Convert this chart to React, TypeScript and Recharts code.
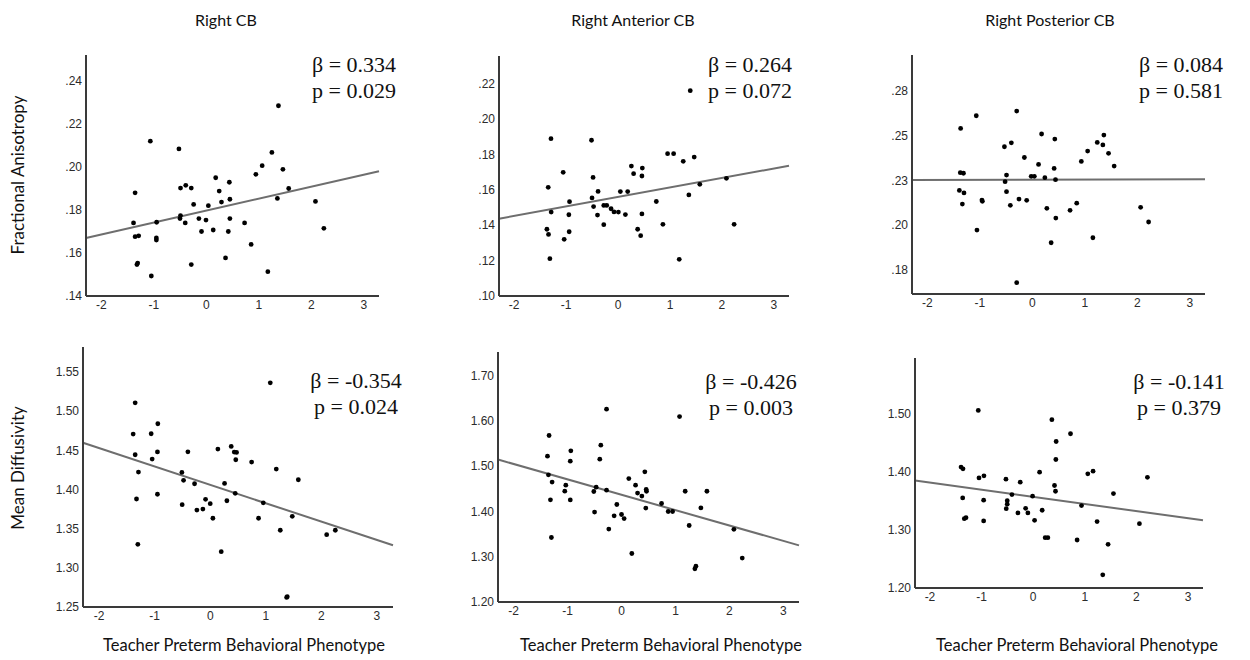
import { ScatterChart, Scatter, XAxis, YAxis, ReferenceLine } from "recharts";

type Pt = [number, number];

const COLUMN_TITLES = ["Right CB", "Right Anterior CB", "Right Posterior CB"];
const ROW_TITLES = ["Fractional Anisotropy", "Mean Diffusivity"];
const X_TITLE = "Teacher Preterm Behavioral Phenotype";

const X_TICKS = [-2, -1, 0, 1, 2, 3];
const X_DOMAIN: [number, number] = [-2.29, 3.29];

// ---- top row: fractional anisotropy ----
const RCB_FA: Pt[] = [
  [1.375, 0.2285], [-1.065, 0.212], [-0.52, 0.2084], [1.25, 0.2068], [1.065, 0.2006],
  [1.46, 0.1989], [0.945, 0.1966], [0.18, 0.195], [0.44, 0.1929], [-0.39, 0.1915],
  [-0.49, 0.1902], [-0.285, 0.1902], [1.57, 0.19], [-1.355, 0.188], [0.247, 0.1888],
  [0.45, 0.185], [1.355, 0.1854], [2.08, 0.184], [0.29, 0.1837], [-0.24, 0.1826],
  [0.04, 0.182], [-0.49, 0.1774], [-0.5, 0.176], [-0.14, 0.176], [-0.005, 0.1753],
  [0.45, 0.176], [-0.945, 0.1743], [-0.4, 0.174], [-1.385, 0.174], [0.73, 0.174],
  [-0.09, 0.17], [0.133, 0.1707], [0.42, 0.17], [2.24, 0.1715], [-1.287, 0.168],
  [-1.355, 0.1676], [-0.95, 0.167], [-0.95, 0.166], [0.855, 0.164], [0.367, 0.1577],
  [-1.306, 0.1553], [-1.32, 0.1546], [-0.285, 0.1546], [1.173, 0.1513], [-1.046, 0.1493],
];
const RCB_FA_FIT = [0.167, 0.198];
const RCB_FA_TICKS = [0.14, 0.16, 0.18, 0.2, 0.22, 0.24];
const RCB_FA_LABELS = [".14", ".16", ".18", ".20", ".22", ".24"];

const RACB_FA: Pt[] = [
  [1.39, 0.216], [-1.29, 0.1889], [-0.51, 0.188], [0.954, 0.1804], [1.07, 0.1804],
  [1.466, 0.1785], [1.255, 0.1761], [0.257, 0.1734], [0.468, 0.1723], [-1.055, 0.1699],
  [0.3, 0.1691], [0.46, 0.1678], [-0.48, 0.167], [2.086, 0.1665], [1.574, 0.1631],
  [-1.343, 0.1614], [-0.384, 0.1591], [0.045, 0.159], [0.186, 0.159], [1.363, 0.1571],
  [-0.5, 0.1554], [-0.933, 0.1533], [0.737, 0.1534], [-0.47, 0.1505], [-0.274, 0.1512],
  [-0.217, 0.1512], [-0.134, 0.1493], [-0.077, 0.1475], [0.007, 0.1474], [-1.286, 0.1474],
  [-0.946, 0.1459], [-0.395, 0.1457], [0.142, 0.146], [0.46, 0.1464], [-0.274, 0.1403],
  [0.864, 0.1405], [2.234, 0.1405], [-1.368, 0.1377], [0.378, 0.1377], [-1.337, 0.1348],
  [-0.94, 0.1363], [0.436, 0.1341], [-1.036, 0.132], [-1.311, 0.1211], [1.178, 0.1207],
];
const RACB_FA_FIT = [0.1437, 0.1736];
const RACB_FA_TICKS = [0.1, 0.12, 0.14, 0.16, 0.18, 0.2, 0.22];
const RACB_FA_LABELS = [".10", ".12", ".14", ".16", ".18", ".20", ".22"];

const RPCB_FA: Pt[] = [
  [-0.296, 0.2637], [-1.066, 0.2611], [-1.364, 0.254], [0.178, 0.2509], [1.364, 0.2503],
  [0.43, 0.2481], [1.238, 0.2462], [-0.398, 0.246], [1.345, 0.2448], [-0.53, 0.2438],
  [1.055, 0.2414], [1.453, 0.2401], [-0.15, 0.2378], [0.935, 0.2356], [0.12, 0.2339],
  [1.56, 0.233], [0.417, 0.2317], [-1.37, 0.2293], [-1.31, 0.229], [-0.49, 0.228],
  [-0.02, 0.2273], [0.04, 0.2273], [0.24, 0.2265], [-0.517, 0.2243], [0.443, 0.2254],
  [-1.388, 0.2194], [-1.3, 0.218], [-0.49, 0.2187], [-0.252, 0.2146], [-0.106, 0.2139],
  [-0.958, 0.214], [-0.95, 0.2133], [-1.331, 0.2118], [0.847, 0.2123], [-0.417, 0.2111],
  [2.064, 0.21], [0.278, 0.2094], [0.72, 0.2083], [0.449, 0.204], [2.216, 0.2018],
  [-1.053, 0.1973], [1.155, 0.193], [0.36, 0.1902], [-0.296, 0.1679],
];
const RPCB_FA_FIT = [0.2252, 0.2256];
const RPCB_FA_TICKS = [0.175, 0.2, 0.225, 0.25, 0.275];
const RPCB_FA_LABELS = [".18", ".20", ".23", ".25", ".28"];

// ---- bottom row: mean diffusivity ----
const RCB_MD: Pt[] = [
  [1.081, 1.5362], [-1.351, 1.5107], [-0.943, 1.484], [-1.387, 1.4708], [-1.063, 1.4712],
  [0.378, 1.4551], [0.138, 1.4517], [-0.402, 1.4482], [-0.95, 1.448], [0.432, 1.4478],
  [0.474, 1.4474], [-1.351, 1.4444], [-1.045, 1.4389], [0.46, 1.438], [0.745, 1.435],
  [1.189, 1.4261], [-1.292, 1.4223], [-0.51, 1.4219], [1.586, 1.4125], [-0.48, 1.4117],
  [-0.282, 1.4074], [0.258, 1.4078], [0.45, 1.3951], [-0.95, 1.394], [-1.327, 1.3879],
  [-0.084, 1.3875], [0.3, 1.3857], [0.0, 1.3819], [0.955, 1.383], [-0.505, 1.3806],
  [-0.24, 1.3738], [-0.132, 1.375], [1.477, 1.3658], [0.048, 1.3633], [0.87, 1.3633],
  [1.261, 1.348], [2.252, 1.348], [2.096, 1.3424], [-1.303, 1.33], [0.198, 1.3207],
  [1.375, 1.2622], [1.387, 1.2632],
];
const RCB_MD_FIT = [1.4597, 1.3288];
const RCB_MD_TICKS = [1.25, 1.3, 1.35, 1.4, 1.45, 1.5, 1.55];
const RCB_MD_LABELS = ["1.25", "1.30", "1.35", "1.40", "1.45", "1.50", "1.55"];

const RACB_MD: Pt[] = [
  [-0.278, 1.6258], [1.076, 1.6095], [-1.343, 1.5676], [-0.384, 1.5463], [-0.94, 1.5338],
  [-1.373, 1.522], [-0.403, 1.5154], [-0.95, 1.511], [0.432, 1.4874], [-1.355, 1.4808],
  [0.135, 1.4726], [-1.287, 1.4647], [-1.033, 1.458], [0.26, 1.458], [-0.47, 1.4536],
  [-0.278, 1.447], [0.457, 1.4485], [-1.052, 1.4448], [-0.514, 1.444], [0.463, 1.4445],
  [1.18, 1.4445], [1.583, 1.4445], [0.297, 1.4404], [0.377, 1.4338], [-1.318, 1.4256],
  [-0.95, 1.4254], [0.742, 1.4175], [-0.087, 1.4153], [0.45, 1.4073], [1.471, 1.408],
  [0.865, 1.3998], [0.946, 1.3998], [-0.5, 1.3985], [0.0, 1.3932], [-0.137, 1.3903],
  [0.048, 1.3843], [1.254, 1.3689], [-0.236, 1.361], [2.083, 1.3605], [-1.3, 1.3424],
  [0.191, 1.3071], [2.238, 1.2969], [1.379, 1.2792], [1.36, 1.2733],
];
const RACB_MD_FIT = [1.5146, 1.325];
const RACB_MD_TICKS = [1.2, 1.3, 1.4, 1.5, 1.6, 1.7];
const RACB_MD_LABELS = ["1.20", "1.30", "1.40", "1.50", "1.60", "1.70"];

const RPCB_MD: Pt[] = [
  [-1.064, 1.505], [0.362, 1.489], [0.723, 1.4649], [0.445, 1.4516], [0.439, 1.4207],
  [-1.398, 1.4076], [-1.36, 1.4046], [1.16, 1.4007], [0.124, 1.399], [1.058, 1.396],
  [-0.954, 1.3926], [-1.05, 1.3891], [2.213, 1.39], [-0.528, 1.3869], [-0.251, 1.3817],
  [0.413, 1.376], [0.432, 1.3662], [1.555, 1.3621], [-0.412, 1.3604], [-0.012, 1.3577],
  [-1.366, 1.3547], [-0.96, 1.3508], [-0.503, 1.35], [-0.503, 1.3439], [0.936, 1.3415],
  [-0.522, 1.3363], [-0.147, 1.3368], [0.174, 1.3335], [-0.103, 1.3289], [-0.296, 1.3289],
  [-1.302, 1.3208], [-1.335, 1.3191], [0.027, 1.3163], [-0.96, 1.3152], [1.238, 1.3141],
  [2.058, 1.3105], [0.232, 1.2864], [0.284, 1.2864], [0.851, 1.2824], [1.451, 1.275],
  [1.348, 1.2227],
];
const RPCB_MD_FIT = [1.3845, 1.3163];
const RPCB_MD_TICKS = [1.2, 1.3, 1.4, 1.5];
const RPCB_MD_LABELS = ["1.20", "1.30", "1.40", "1.50"];

const BETAS = ["0.334", "0.264", "0.084", "-0.354", "-0.426", "-0.141"];
const P_VALUES = ["0.029", "0.072", "0.581", "0.024", "0.003", "0.379"];

const AXIS_COLOR = "#3a3a3a";
const FIT_COLOR = "#6e6e6e";
const TICK_STYLE = { fill: "#2b2b2b", fontSize: 12, fontFamily: "Liberation Sans, Arial, sans-serif" };
const LABEL_FONT = "Lato, 'Open Sans', sans-serif";

interface Box {
  left: number;
  top: number;
  w: number;
  h: number;
}

interface PanelProps {
  box: Box;
  points: Pt[];
  yDomain: [number, number];
  yTicks: number[];
  yLabels: string[];
  fit: number[];
}

const Dot = (props: { cx?: number; cy?: number }) => (
  <circle cx={props.cx} cy={props.cy} r={2.4} fill="#000" />
);

function Panel({ box, points, yDomain, yTicks, yLabels, fit }: PanelProps) {
  const data = points.map(([x, y]) => ({ x, y }));
  const fmt = (v: number) => yLabels[yTicks.indexOf(v)] ?? String(v);
  return (
    <div style={{ position: "absolute", left: box.left - 50, top: box.top - 10 }}>
      <ScatterChart
        width={box.w + 60}
        height={box.h + 40}
        margin={{ top: 10, right: 10, bottom: 0, left: 0 }}
      >
        <XAxis
          type="number"
          dataKey="x"
          domain={X_DOMAIN}
          ticks={X_TICKS}
          allowDataOverflow
          height={30}
          tickSize={0}
          tickMargin={4}
          tick={TICK_STYLE}
          axisLine={{ stroke: AXIS_COLOR, strokeWidth: 2 }}
          tickLine={false}
        />
        <YAxis
          type="number"
          dataKey="y"
          domain={yDomain}
          ticks={yTicks}
          allowDataOverflow
          width={50}
          tickSize={0}
          tickMargin={4}
          tick={TICK_STYLE}
          tickFormatter={fmt}
          axisLine={{ stroke: AXIS_COLOR, strokeWidth: 2 }}
          tickLine={false}
        />
        <ReferenceLine
          segment={[
            { x: X_DOMAIN[0], y: fit[0] },
            { x: X_DOMAIN[1], y: fit[1] },
          ]}
          stroke={FIT_COLOR}
          strokeWidth={2}
        />
        <Scatter data={data} isAnimationActive={false} shape={Dot} />
      </ScatterChart>
    </div>
  );
}

function Stats({ cx, y, beta, p }: { cx: number; y: number; beta: string; p: string }) {
  return (
    <div
      style={{
        position: "absolute",
        left: cx - 100,
        top: y - 13,
        width: 200,
        textAlign: "center",
        font: "22px 'Liberation Serif', 'Times New Roman', serif",
        lineHeight: "26px",
        color: "#111",
      }}
    >
      <div>β = {beta}</div>
      <div>p = {p}</div>
    </div>
  );
}

function CenteredText({ cx, cy, text, size, rotate }: { cx: number; cy: number; text: string; size: number; rotate?: boolean }) {
  return (
    <div
      style={{
        position: "absolute",
        left: cx - 200,
        top: cy - 12,
        width: 400,
        height: 24,
        lineHeight: "24px",
        textAlign: "center",
        fontFamily: LABEL_FONT,
        fontSize: size,
        color: "#111",
        whiteSpace: "nowrap",
        transform: rotate ? "rotate(-90deg)" : undefined,
      }}
    >
      {text}
    </div>
  );
}

export default function App() {
  return (
    <div style={{ position: "absolute", left: 0, top: 0, width: 1250, height: 660, background: "#fff" }}>
      <CenteredText cx={226} cy={20} text={COLUMN_TITLES[0]} size={16} />
      <CenteredText cx={633} cy={20} text={COLUMN_TITLES[1]} size={16} />
      <CenteredText cx={1050} cy={20} text={COLUMN_TITLES[2]} size={16} />
      <CenteredText cx={18} cy={175} text={ROW_TITLES[0]} size={17} rotate />
      <CenteredText cx={18} cy={468} text={ROW_TITLES[1]} size={17} rotate />
      <CenteredText cx={244} cy={645} text={X_TITLE} size={16.5} />
      <CenteredText cx={661} cy={645} text={X_TITLE} size={16.5} />
      <CenteredText cx={1077} cy={645} text={X_TITLE} size={16.5} />

      <Panel box={{ left: 86, top: 55, w: 293, h: 241 }} points={RCB_FA} yDomain={[0.14, 0.2521]} yTicks={RCB_FA_TICKS} yLabels={RCB_FA_LABELS} fit={RCB_FA_FIT} />
      <Panel box={{ left: 499, top: 56, w: 290, h: 240 }} points={RACB_FA} yDomain={[0.1, 0.2356]} yTicks={RACB_FA_TICKS} yLabels={RACB_FA_LABELS} fit={RACB_FA_FIT} />
      <Panel box={{ left: 912, top: 55, w: 293, h: 239 }} points={RPCB_FA} yDomain={[0.1616, 0.295]} yTicks={RPCB_FA_TICKS} yLabels={RPCB_FA_LABELS} fit={RPCB_FA_FIT} />
      <Panel box={{ left: 83, top: 347, w: 310, h: 260 }} points={RCB_MD} yDomain={[1.25, 1.582]} yTicks={RCB_MD_TICKS} yLabels={RCB_MD_LABELS} fit={RCB_MD_FIT} />
      <Panel box={{ left: 498, top: 352, w: 301, h: 250 }} points={RACB_MD} yDomain={[1.2, 1.752]} yTicks={RACB_MD_TICKS} yLabels={RACB_MD_LABELS} fit={RACB_MD_FIT} />
      <Panel box={{ left: 915, top: 358, w: 288, h: 230 }} points={RPCB_MD} yDomain={[1.2, 1.595]} yTicks={RPCB_MD_TICKS} yLabels={RPCB_MD_LABELS} fit={RPCB_MD_FIT} />

      <Stats cx={354} y={65} beta={BETAS[0]} p={P_VALUES[0]} />
      <Stats cx={750} y={65} beta={BETAS[1]} p={P_VALUES[1]} />
      <Stats cx={1181} y={65} beta={BETAS[2]} p={P_VALUES[2]} />
      <Stats cx={356} y={381} beta={BETAS[3]} p={P_VALUES[3]} />
      <Stats cx={751} y={382} beta={BETAS[4]} p={P_VALUES[4]} />
      <Stats cx={1179} y={382} beta={BETAS[5]} p={P_VALUES[5]} />
    </div>
  );
}
